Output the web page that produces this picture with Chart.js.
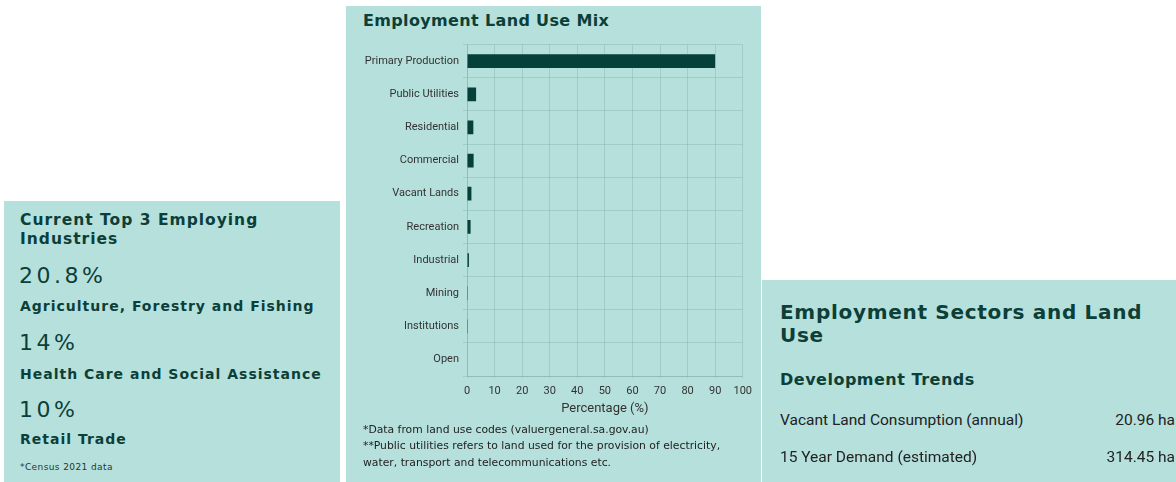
<!DOCTYPE html>
<html>
<head>
<meta charset="utf-8" />
<title>Employment Land Use</title>
<script src="https://cdn.jsdelivr.net/npm/chart.js@4.4.1/dist/chart.umd.min.js"></script>
<style>
  html, body { margin: 0; padding: 0; background: #fff; }
  body { width: 1176px; height: 482px; position: relative; overflow: hidden; }
  .panel { position: absolute; background: #b6e0dc; color: #0b3f38; }
  .head { font-family: "DejaVu Sans", sans-serif; font-weight: bold; position: absolute; white-space: nowrap; }
  .txt { position: absolute; white-space: nowrap; }
  #industries { left: 4px; top: 201px; width: 336px; height: 281px; }
  #landmix { left: 346px; top: 6px; width: 415px; height: 476px; }
  #sectors { left: 762px; top: 280px; width: 414px; height: 202px; }
  .big { font-family: "DejaVu Sans", sans-serif; font-size: 22px; letter-spacing: 3.5px; position: absolute; }
  .sub { letter-spacing: 1px; font-size: 14px; }
  .note { font-family: "DejaVu Sans", sans-serif; font-size: 10.8px; color: #222; position: absolute; left: 17px; white-space: nowrap; }
  .row { font-family: Roboto, sans-serif; font-size: 15.5px; color: #222; position: absolute; }
  #chartBox { position: absolute; left: 10px; top: 28px; width: 403px; height: 390px; }
</style>
</head>
<body>
<div class="panel" id="industries">
  <div class="head" style="left:16px; top:10px; font-size:15.5px; line-height:19px; letter-spacing:1px;">Current Top 3 Employing<br>Industries</div>
  <div class="big" style="left:15px; top:62px;">20.8%</div>
  <div class="head sub" style="left:16px; top:97px;">Agriculture, Forestry and Fishing</div>
  <div class="big" style="left:15px; top:129px;">14%</div>
  <div class="head sub" style="left:16px; top:165px;">Health Care and Social Assistance</div>
  <div class="big" style="left:15px; top:196px;">10%</div>
  <div class="head sub" style="left:16px; top:230px;">Retail Trade</div>
  <div class="txt" style="left:16px; top:261px; font-family:'DejaVu Sans',sans-serif; font-size:9px; letter-spacing:0.4px; color:#1d3a35;">*Census 2021 data</div>
</div>

<div class="panel" id="landmix">
  <div class="head" style="left:17px; top:5px; font-size:16px; letter-spacing:0.35px;">Employment Land Use Mix</div>
  <div id="chartBox"><canvas id="mixChart"></canvas></div>
  <div class="note" style="top:417px;">*Data from land use codes (valuergeneral.sa.gov.au)</div>
  <div class="note" style="top:433px;">**Public utilities refers to land used for the provision of electricity,</div>
  <div class="note" style="top:450px;">water, transport and telecommunications etc.</div>
</div>

<div class="panel" id="sectors">
  <div class="head" style="left:18px; top:21px; font-size:20px; line-height:23px; letter-spacing:0.7px;">Employment Sectors and Land<br>Use</div>
  <div class="head" style="left:18px; top:90px; font-size:16px; letter-spacing:0.5px;">Development Trends</div>
  <div class="row" style="left:18px; top:131px;">Vacant Land Consumption (annual)</div>
  <div class="row" style="right:1px; top:131px;">20.96 ha</div>
  <div class="row" style="left:18px; top:168px;">15 Year Demand (estimated)</div>
  <div class="row" style="right:1px; top:168px;">314.45 ha</div>
</div>

<script>
  const landUses = ['Primary Production', 'Public Utilities', 'Residential', 'Commercial', 'Vacant Lands',
                    'Recreation', 'Industrial', 'Mining', 'Institutions', 'Open'];
  const shares = [90, 3.3, 2.3, 2.4, 1.6, 1.3, 0.7, 0.3, 0.3, 0];
  const xTicks = [0, 10, 20, 30, 40, 50, 60, 70, 80, 90, 100];

  const gridColor = 'rgba(20, 70, 60, 0.12)';
  const tickFont = { family: 'Roboto', size: 11 };

  new Chart(document.getElementById('mixChart'), {
    type: 'bar',
    data: {
      labels: landUses,
      datasets: [{
        label: 'Share of land',
        data: shares,
        backgroundColor: '#05413a',
        borderWidth: 0,
        barPercentage: 0.5,
        categoryPercentage: 0.83
      }]
    },
    options: {
      indexAxis: 'y',
      responsive: true,
      maintainAspectRatio: false,
      animation: false,
      layout: { padding: { top: 3, right: 8, left: 0, bottom: 0 } },
      plugins: {
        legend: { display: false },
        tooltip: { enabled: false }
      },
      scales: {
        x: {
          min: 0,
          max: 100,
          afterBuildTicks: (s) => { s.ticks = xTicks.map(v => ({ value: v })); },
          afterFit: (s) => { s.height = 48; },
          grid: { color: gridColor, tickLength: 2 },
          border: { color: gridColor },
          ticks: { font: tickFont, color: '#333', padding: 7, maxRotation: 0 },
          title: {
            display: true,
            text: 'Percentage (%)',
            font: { family: 'Roboto', size: 13 },
            color: '#333',
            padding: { top: 3, bottom: 7.5 }
          }
        },
        y: {
          afterFit: (s) => { s.width = 111; },
          grid: { color: gridColor, tickLength: 4 },
          border: { color: gridColor },
          ticks: { font: tickFont, color: '#333', padding: 4 }
        }
      }
    }
  });
</script>
</body>
</html>
